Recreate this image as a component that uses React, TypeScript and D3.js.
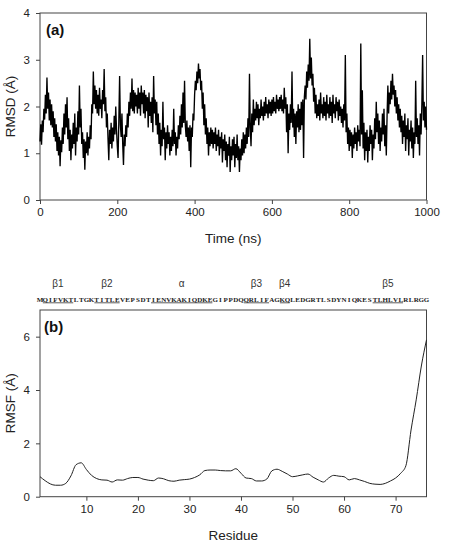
import React, { useRef, useEffect } from 'react';
import * as d3 from 'd3';

// RMSD of the backbone, sampled every 2 ns from 0 to 1000 ns
const rmsdStep = 2;
const rmsd = [
  1.25, 1.62, 1.18, 1.70, 1.45, 1.95, 1.72, 2.25, 1.85, 2.62, 1.95, 2.30, 1.70, 2.15, 1.60, 2.05, 1.55, 1.90, 1.35, 1.75, 1.25, 1.62, 1.05, 1.45, 0.95,
  1.35, 0.72, 1.28, 1.02, 1.55, 1.20, 1.85, 1.40, 2.05, 1.55, 2.20, 1.30, 1.75, 1.05, 1.50, 0.85, 1.40, 1.10, 1.65, 1.20, 1.85, 0.95, 1.55, 1.25, 1.90,
  1.40, 2.45, 1.55, 1.95, 1.20, 1.45, 0.90, 1.30, 0.65, 1.25, 1.00, 1.45, 0.95, 1.35, 1.10, 1.60, 1.30, 2.05, 1.85, 2.75, 2.05, 2.45, 1.95, 2.35, 1.85,
  2.25, 1.80, 2.40, 1.95, 2.15, 1.75, 2.35, 2.05, 2.80, 1.90, 2.20, 1.55, 1.85, 1.30, 0.85, 1.50, 1.20, 1.65, 1.10, 1.55, 1.25, 1.80, 1.40, 2.00, 1.50,
  1.15, 0.90, 1.70, 2.65, 1.60, 1.35, 1.85, 1.20, 0.75, 1.40, 1.15, 1.60, 1.35, 1.85, 1.55, 2.10, 1.80, 2.30, 1.95, 2.60, 1.90, 2.35, 1.85, 2.30, 2.00,
  2.25, 1.85, 2.40, 1.95, 2.30, 1.80, 2.45, 2.05, 2.30, 1.85, 2.35, 1.75, 2.25, 1.90, 2.20, 1.55, 2.30, 1.80, 2.10, 1.65, 2.20, 1.45, 2.65, 1.85, 2.15,
  1.60, 2.10, 1.40, 1.85, 1.20, 1.65, 0.95, 1.50, 1.15, 2.10, 1.30, 1.55, 0.85, 1.45, 1.10, 1.60, 1.20, 1.45, 0.95, 1.35, 1.05, 1.50, 1.15, 1.95, 1.20,
  1.45, 0.95, 1.35, 1.10, 1.60, 1.30, 1.80, 1.40, 2.05, 1.55, 2.30, 1.65, 2.55, 1.60, 1.35, 1.70, 1.25, 1.55, 1.05, 1.60, 0.70, 1.55, 1.35, 1.85, 1.70,
  2.25, 2.55, 2.35, 2.75, 2.50, 2.92, 2.60, 2.80, 2.35, 2.55, 1.95, 2.30, 1.60, 2.05, 1.40, 1.75, 1.20, 1.55, 0.95, 1.45, 1.15, 1.55, 1.20, 1.50, 1.10,
  1.45, 1.20, 1.55, 1.05, 1.40, 1.15, 1.50, 0.95, 1.35, 1.10, 1.45, 0.80, 1.30, 1.05, 1.40, 0.85, 1.25, 0.70, 1.20, 0.95, 1.35, 0.60, 1.15, 0.85, 1.30,
  0.95, 1.35, 0.70, 1.20, 0.90, 1.40, 0.85, 1.15, 0.60, 1.10, 0.85, 1.30, 0.95, 1.45, 1.00, 1.40, 1.10, 1.55, 1.20, 1.75, 1.35, 2.70, 1.55, 1.15, 1.85,
  1.45, 2.15, 1.60, 1.95, 1.70, 2.10, 1.75, 2.05, 1.60, 1.95, 1.75, 2.15, 1.80, 2.00, 1.70, 2.10, 1.80, 2.20, 1.85, 2.05, 1.75, 2.15, 1.85, 2.10, 1.80,
  2.15, 1.85, 2.20, 1.90, 2.10, 1.85, 2.25, 1.95, 2.15, 1.90, 2.20, 1.95, 2.25, 1.90, 2.15, 1.85, 2.40, 1.95, 2.20, 1.45, 2.05, 1.00, 1.85, 1.50, 2.05,
  1.65, 2.75, 1.55, 1.95, 1.35, 1.85, 1.20, 1.90, 1.55, 2.05, 1.45, 1.95, 1.50, 2.10, 1.60, 2.15, 0.90, 2.20, 2.45, 2.15, 2.75, 2.40, 2.90, 2.55, 3.45,
  2.60, 3.05, 2.45, 2.70, 2.10, 2.40, 1.85, 2.25, 1.75, 2.05, 1.80, 2.15, 1.70, 2.30, 1.85, 2.05, 1.75, 2.20, 1.80, 2.10, 1.70, 2.25, 1.85, 2.05, 1.75,
  2.20, 1.80, 2.10, 1.65, 2.25, 1.85, 2.05, 1.75, 2.20, 1.90, 2.10, 1.70, 2.15, 1.80, 2.00, 1.65, 1.95, 1.55, 2.05, 1.70, 3.10, 1.45, 1.85, 1.20, 1.55,
  1.05, 1.50, 1.15, 1.45, 0.90, 1.40, 1.10, 1.55, 1.20, 1.45, 1.05, 1.60, 1.25, 1.50, 1.15, 3.35, 1.40, 2.35, 1.10, 1.65, 0.85, 1.45, 1.05, 1.50, 0.80,
  1.35, 1.05, 1.60, 1.20, 1.50, 0.85, 1.40, 1.10, 1.75, 1.30, 2.10, 1.45, 1.85, 1.20, 1.70, 1.05, 1.55, 1.25, 1.85, 1.40, 1.95, 1.15, 1.60, 0.95, 1.80,
  2.45, 1.85, 2.30, 2.05, 2.55, 2.15, 2.70, 2.25, 2.45, 2.00, 2.35, 1.85, 2.20, 1.70, 2.05, 1.55, 1.95, 1.45, 1.80, 1.20, 1.70, 1.35, 1.85, 1.05, 1.60,
  1.30, 1.75, 0.95, 1.50, 1.25, 1.70, 1.10, 1.55, 0.90, 1.45, 1.20, 2.55, 1.35, 1.75, 1.20, 1.60, 0.95, 1.85, 1.40, 2.05, 3.10, 1.70, 2.10, 1.55, 2.00, 1.50,
];

// per-residue RMSF, residues 1..76
const sequence = 'MQIFVKTLTGKTITLEVEPSDTIENVKAKIQDKEGIPPDQQRLIFAGKQLEDGRTLSDYNIQKESTLHLVLRLRGG'.split('');
const rmsf = [
  0.75, 0.60, 0.48, 0.43, 0.43, 0.50, 0.78, 1.20, 1.27, 1.02,
  0.80, 0.68, 0.63, 0.62, 0.55, 0.63, 0.62, 0.68, 0.72, 0.72,
  0.66, 0.62, 0.60, 0.70, 0.67, 0.60, 0.58, 0.62, 0.64, 0.66,
  0.72, 0.82, 0.98, 1.00, 1.00, 0.98, 0.97, 0.97, 1.05, 0.88,
  0.70, 0.68, 0.59, 0.59, 0.66, 0.97, 1.03, 0.95, 0.85, 0.75,
  0.78, 0.82, 0.85, 0.73, 0.63, 0.55, 0.70, 0.80, 0.77, 0.75,
  0.63, 0.68, 0.63, 0.57, 0.50, 0.47, 0.46, 0.50, 0.59, 0.70,
  0.88, 1.16, 2.50, 3.63, 4.90, 5.88,
];

// secondary structure elements (residue ranges)
const elements = [
  { label: 'β1', from: 2, to: 7 },
  { label: 'β2', from: 12, to: 16 },
  { label: 'α', from: 23, to: 34 },
  { label: 'β3', from: 41, to: 45 },
  { label: 'β4', from: 48, to: 49 },
  { label: 'β5', from: 66, to: 71 },
];

const timeTicks = [0, 200, 400, 600, 800, 1000];
const rmsdTicks = [0, 1, 2, 3, 4];
const residueTicks = [10, 20, 30, 40, 50, 60, 70];
const rmsfTicks = [0, 2, 4, 6];

const W = 450;
const H = 554;
const FONT = 'Liberation Sans, Arial, sans-serif';
const AXIS = '#444';
const TEXT = '#222';

const App = () => {
  const ref = useRef<SVGSVGElement>(null);

  useEffect(() => {
    const svg = d3.select(ref.current);
    svg.selectAll('*').remove();

    const left = 40;
    const right = 426.5;

    const styleAxis = (g: any) => {
      g.select('.domain').remove();
      g.selectAll('line').attr('stroke', AXIS);
      g.selectAll('text')
        .attr('fill', TEXT)
        .style('font-family', FONT)
        .style('font-size', '11.5px');
    };

    // ---------- (a) RMSD vs time ----------
    const aTop = 13;
    const aBot = 200;
    const x1 = d3.scaleLinear().domain([0, 1000]).range([left, right]);
    const y1 = d3.scaleLinear().domain([0, 4]).range([aBot, aTop]);

    const pa = svg.append('g');
    pa.append('rect')
      .attr('x', left).attr('y', aTop)
      .attr('width', right - left).attr('height', aBot - aTop)
      .attr('fill', 'none').attr('stroke', AXIS).attr('stroke-width', 1);

    const line1 = d3.line<number>()
      .x((_, i) => x1(i * rmsdStep))
      .y(d => y1(d));
    pa.append('path')
      .datum(rmsd)
      .attr('d', line1)
      .attr('fill', 'none')
      .attr('stroke', '#000')
      .attr('stroke-width', 1.35)
      .attr('stroke-linejoin', 'miter');

    pa.append('g')
      .attr('transform', `translate(0,${aBot})`)
      .call(d3.axisBottom(x1).tickValues(timeTicks).tickSize(4).tickPadding(4).tickFormat(d3.format('d')))
      .call(styleAxis);
    pa.append('g')
      .attr('transform', `translate(${left},0)`)
      .call(d3.axisLeft(y1).tickValues(rmsdTicks).tickSize(4).tickPadding(6).tickFormat(d3.format('d')))
      .call(styleAxis);

    pa.append('text')
      .attr('x', (left + right) / 2).attr('y', 243)
      .attr('text-anchor', 'middle')
      .attr('fill', TEXT)
      .style('font-family', FONT).style('font-size', '13.5px')
      .text('Time (ns)');
    pa.append('text')
      .attr('transform', `translate(15,${(aTop + aBot) / 2}) rotate(-90)`)
      .attr('text-anchor', 'middle')
      .attr('fill', TEXT)
      .style('font-family', FONT).style('font-size', '13.5px')
      .text('RMSD (Å)');
    pa.append('text')
      .attr('x', 46).attr('y', 35)
      .attr('fill', '#111')
      .style('font-family', FONT).style('font-size', '15px').style('font-weight', 'bold')
      .text('(a)');

    // ---------- (b) RMSF vs residue ----------
    const bTop = 310;
    const bBot = 496.7;
    const x2 = d3.scaleLinear().domain([1, 76]).range([left, right]);
    const y2 = d3.scaleLinear().domain([0, 7]).range([bBot, bTop]);

    const pb = svg.append('g');
    pb.append('rect')
      .attr('x', left).attr('y', bTop)
      .attr('width', right - left).attr('height', bBot - bTop)
      .attr('fill', 'none').attr('stroke', AXIS).attr('stroke-width', 1);

    const line2 = d3.line<number>()
      .x((_, i) => x2(i + 1))
      .y(d => y2(d))
      .curve(d3.curveMonotoneX);
    pb.append('path')
      .datum(rmsf)
      .attr('d', line2)
      .attr('fill', 'none')
      .attr('stroke', '#222')
      .attr('stroke-width', 1);

    pb.append('g')
      .attr('transform', `translate(0,${bBot})`)
      .call(d3.axisBottom(x2).tickValues(residueTicks).tickSize(4).tickPadding(4).tickFormat(d3.format('d')))
      .call(styleAxis);
    pb.append('g')
      .attr('transform', `translate(${left},0)`)
      .call(d3.axisLeft(y2).tickValues(rmsfTicks).tickSize(4).tickPadding(6).tickFormat(d3.format('d')))
      .call(styleAxis);

    pb.append('text')
      .attr('x', (left + right) / 2).attr('y', 540)
      .attr('text-anchor', 'middle')
      .attr('fill', TEXT)
      .style('font-family', FONT).style('font-size', '13.5px')
      .text('Residue');
    pb.append('text')
      .attr('transform', `translate(15,${(bTop + bBot) / 2}) rotate(-90)`)
      .attr('text-anchor', 'middle')
      .attr('fill', TEXT)
      .style('font-family', FONT).style('font-size', '13.5px')
      .text('RMSF (Å)');
    pb.append('text')
      .attr('x', 44).attr('y', 332)
      .attr('fill', '#111')
      .style('font-family', FONT).style('font-size', '15px').style('font-weight', 'bold')
      .text('(b)');

    // sequence row, one letter per residue
    pb.append('g')
      .selectAll('text')
      .data(sequence)
      .enter()
      .append('text')
      .attr('x', (_, i) => x2(i + 1))
      .attr('y', 301.5)
      .attr('text-anchor', 'middle')
      .attr('fill', '#222')
      .style('font-family', 'Liberation Serif, serif')
      .style('font-size', '7px')
      .style('font-weight', 'bold')
      .text(d => d);

    const ss = pb.append('g');
    ss.selectAll('line')
      .data(elements)
      .enter()
      .append('line')
      .attr('x1', d => x2(d.from - 0.45))
      .attr('x2', d => x2(d.to + 0.45))
      .attr('y1', 302.8).attr('y2', 302.8)
      .attr('stroke', '#333')
      .attr('stroke-width', 0.8);
    ss.selectAll('text')
      .data(elements)
      .enter()
      .append('text')
      .attr('x', d => x2((d.from + d.to) / 2))
      .attr('y', 287)
      .attr('text-anchor', 'middle')
      .attr('fill', '#333')
      .style('font-family', FONT)
      .style('font-size', '10px')
      .text(d => d.label);
  }, []);

  return (
    <svg
      ref={ref}
      width={W}
      height={H}
      style={{ position: 'absolute', left: 0, top: 0, background: '#fff' }}
    />
  );
};

export default App;
